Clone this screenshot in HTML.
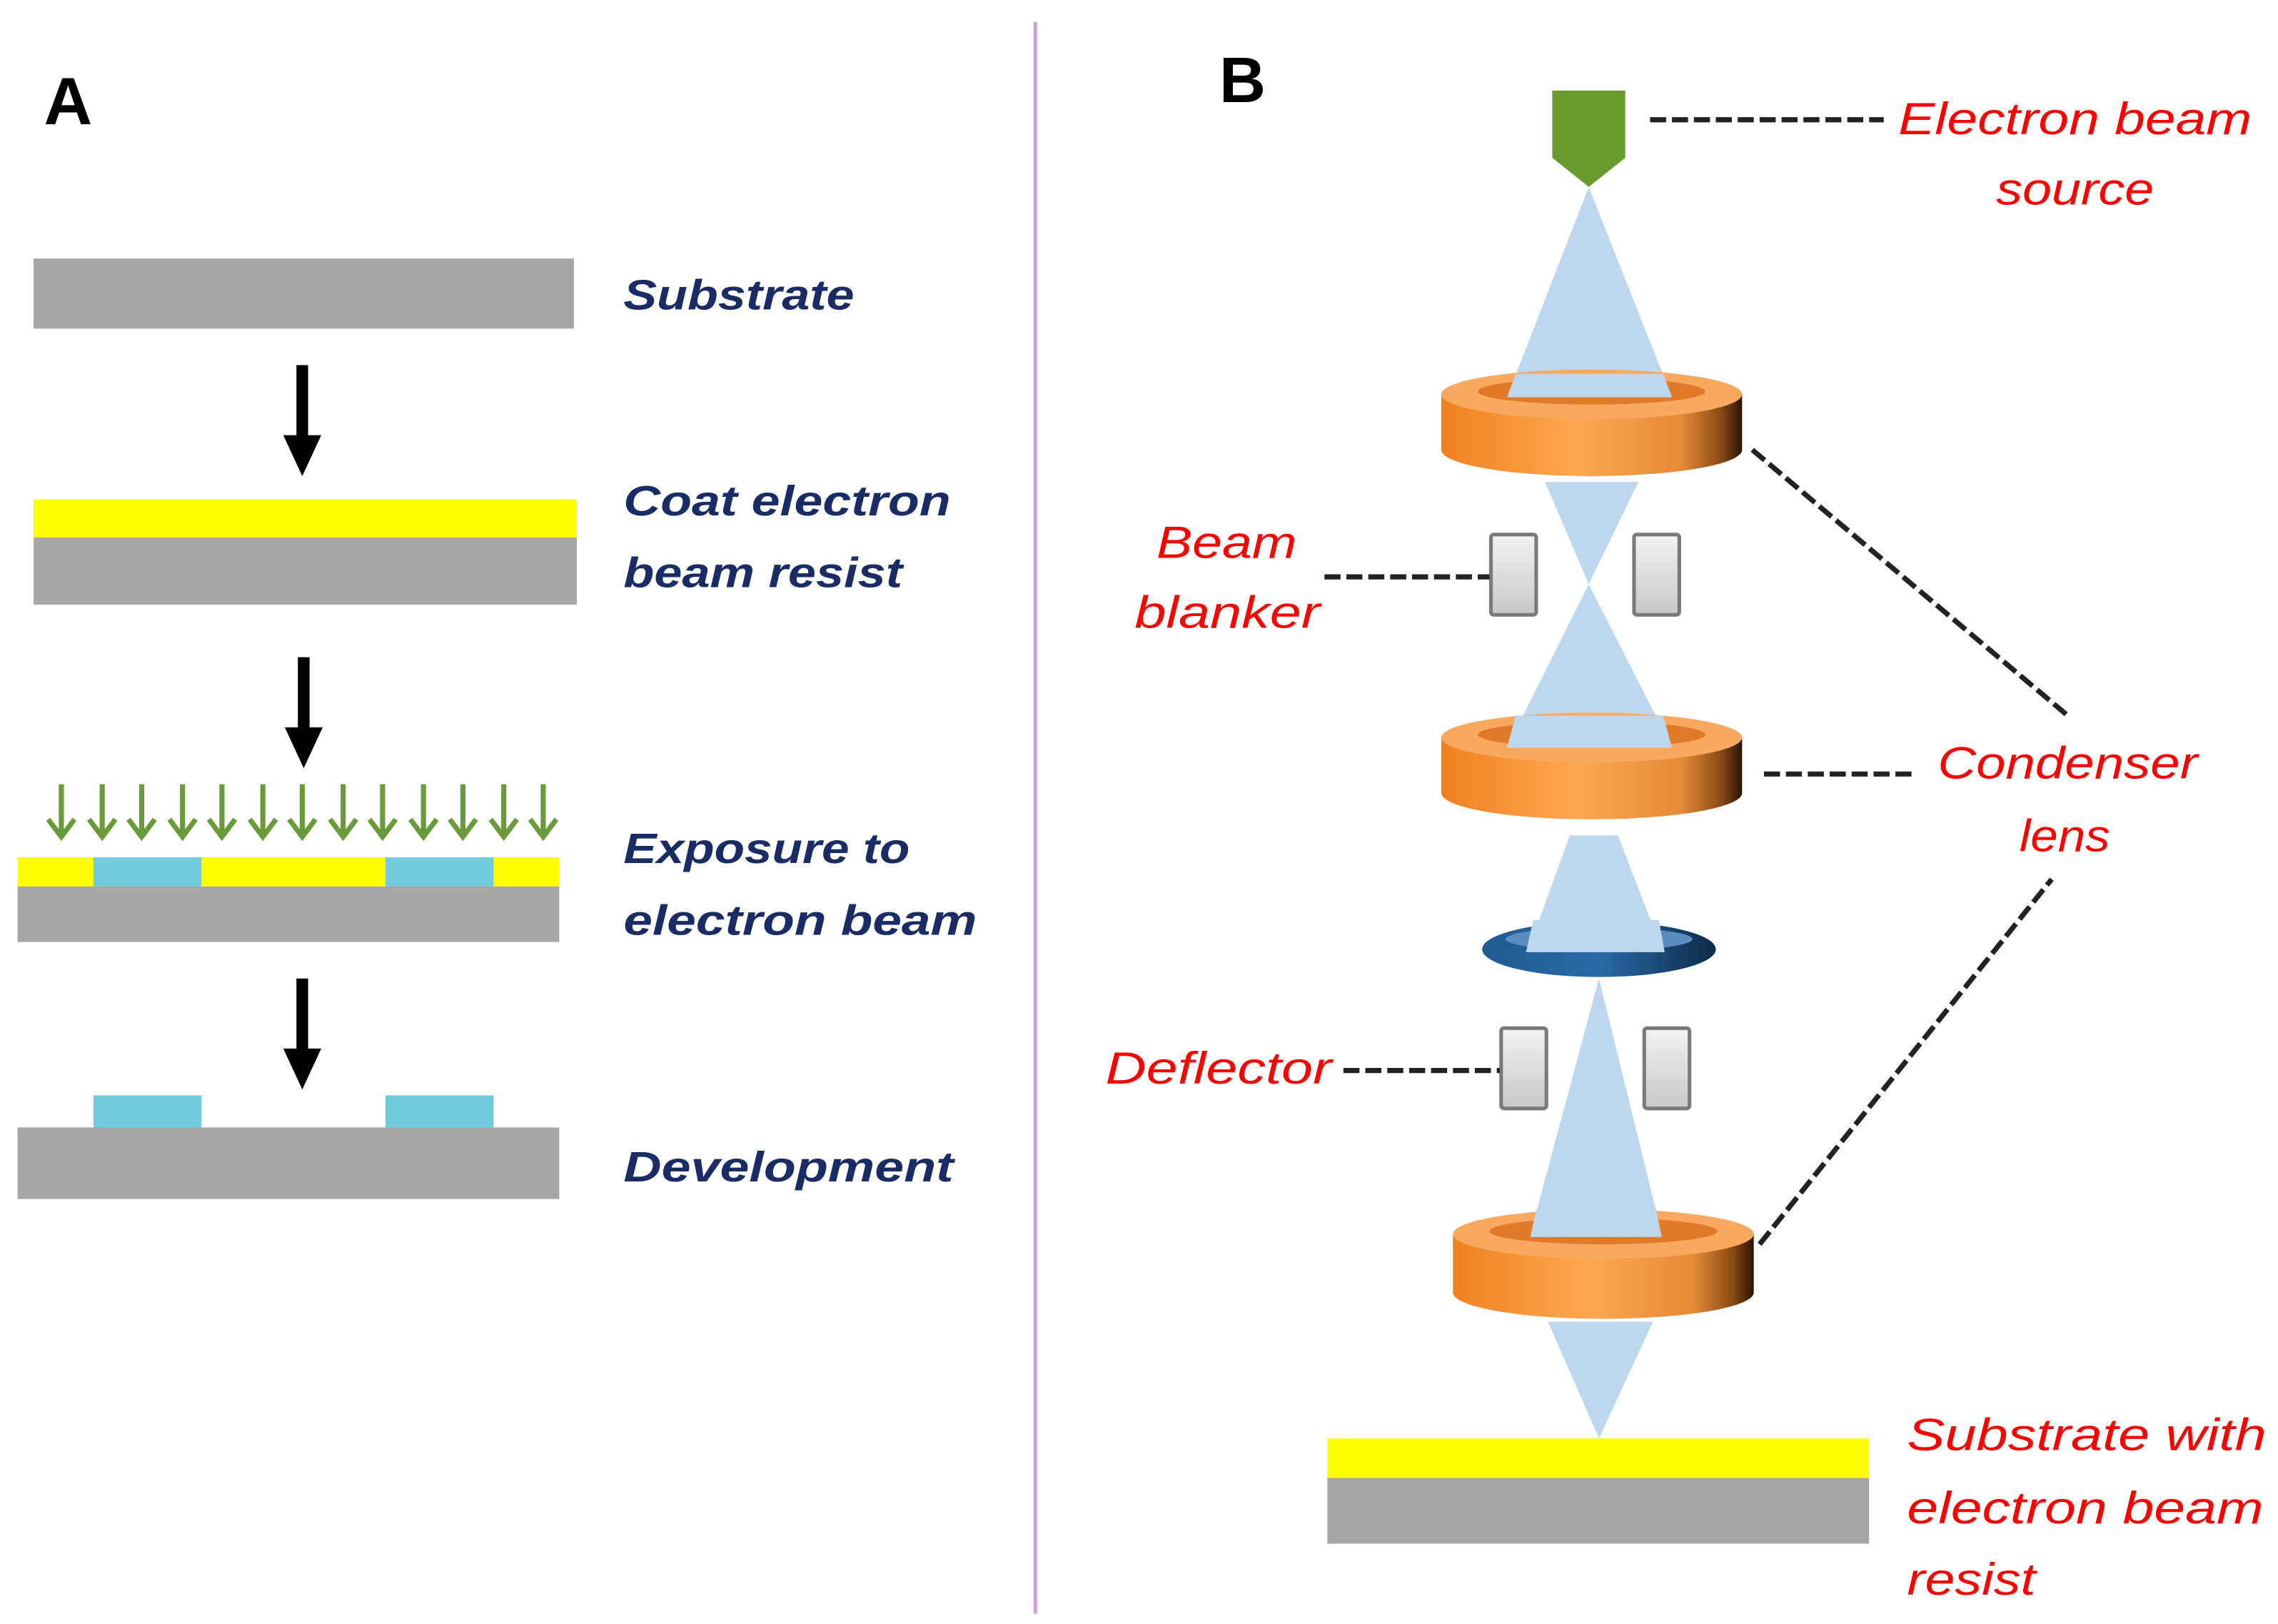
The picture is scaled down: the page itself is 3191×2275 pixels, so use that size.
<!DOCTYPE html>
<html><head><meta charset="utf-8"><style>
html,body{margin:0;padding:0;background:#fff;}
svg{display:block;}
.n{font-family:"Liberation Sans",sans-serif;font-style:italic;font-weight:bold;fill:#1a2c66;font-size:29px;}
.r{font-family:"Liberation Sans",sans-serif;font-style:italic;font-weight:normal;fill:#ff0000;font-size:31px;}
</style></head><body>
<svg width="3191" height="2275" viewBox="0 0 1560 1112" preserveAspectRatio="none" xmlns="http://www.w3.org/2000/svg">
<defs>
<linearGradient id="og" x1="0" x2="1" y1="0" y2="0">
<stop offset="0" stop-color="#f08020"/><stop offset="0.45" stop-color="#fda850"/><stop offset="0.8" stop-color="#e58a38"/><stop offset="0.93" stop-color="#8a4a14"/><stop offset="1" stop-color="#2a1405"/>
</linearGradient>
<linearGradient id="pg" x1="0" x2="0" y1="0" y2="1">
<stop offset="0" stop-color="#f2f2f2"/><stop offset="1" stop-color="#c8c8c8"/>
</linearGradient>
<linearGradient id="bg" x1="0" x2="1" y1="0" y2="0">
<stop offset="0" stop-color="#1f5a90"/><stop offset="0.5" stop-color="#2a6aa8"/><stop offset="1" stop-color="#0d2a48"/>
</linearGradient>
</defs>
<rect width="1560" height="1112" fill="#fff"/>
<line x1="709" y1="15" x2="709" y2="1105" stroke="#c9a0dc" stroke-width="2.5"/>
<text x="30" y="85" font-family="Liberation Sans,sans-serif" font-weight="bold" font-size="46">A</text>
<rect x="23" y="177" width="370" height="48" fill="#a6a6a6"/>
<g fill="#000">
<rect x="203" y="250" width="8" height="50"/><polygon points="194,298 220,298 207,326"/>
<rect x="204" y="450" width="8" height="50"/><polygon points="195,498 221,498 208,526"/>
<rect x="203" y="670" width="8" height="50"/><polygon points="194,718 220,718 207,746"/>
</g>
<rect x="23" y="342" width="372" height="26" fill="#ffff00"/>
<rect x="23" y="368" width="372" height="46" fill="#a6a6a6"/>
<g stroke="#6a9a3a" stroke-width="3.5" fill="none">
<path d="M42,537 v34 M33,561 l9,12 l9,-12"/>
<path d="M70,537 v34 M61,561 l9,12 l9,-12"/>
<path d="M97,537 v34 M88,561 l9,12 l9,-12"/>
<path d="M125,537 v34 M116,561 l9,12 l9,-12"/>
<path d="M152,537 v34 M143,561 l9,12 l9,-12"/>
<path d="M180,537 v34 M171,561 l9,12 l9,-12"/>
<path d="M207,537 v34 M198,561 l9,12 l9,-12"/>
<path d="M235,537 v34 M226,561 l9,12 l9,-12"/>
<path d="M262,537 v34 M253,561 l9,12 l9,-12"/>
<path d="M290,537 v34 M281,561 l9,12 l9,-12"/>
<path d="M317,537 v34 M308,561 l9,12 l9,-12"/>
<path d="M345,537 v34 M336,561 l9,12 l9,-12"/>
<path d="M372,537 v34 M363,561 l9,12 l9,-12"/>
</g>
<rect x="12" y="587" width="371" height="20" fill="#ffff00"/>
<rect x="64" y="587" width="74" height="20" fill="#72cbdc"/>
<rect x="264" y="587" width="74" height="20" fill="#72cbdc"/>
<rect x="12" y="607" width="371" height="38" fill="#a6a6a6"/>
<rect x="64" y="750" width="74" height="23" fill="#72cbdc"/>
<rect x="264" y="750" width="74" height="23" fill="#72cbdc"/>
<rect x="12" y="772" width="371" height="49" fill="#a6a6a6"/>
<text class="n" x="427" y="212" textLength="158" lengthAdjust="spacingAndGlyphs">Substrate</text>
<text class="n" x="427" y="353" textLength="224" lengthAdjust="spacingAndGlyphs">Coat electron</text>
<text class="n" x="427" y="402" textLength="191" lengthAdjust="spacingAndGlyphs">beam resist</text>
<text class="n" x="427" y="591" textLength="196" lengthAdjust="spacingAndGlyphs">Exposure to</text>
<text class="n" x="427" y="640" textLength="242" lengthAdjust="spacingAndGlyphs">electron beam</text>
<text class="n" x="427" y="809" textLength="226" lengthAdjust="spacingAndGlyphs">Development</text>
<text x="835" y="70" font-family="Liberation Sans,sans-serif" font-weight="bold" font-size="44">B</text>
<g fill="#bdd7ee">
<polygon points="1088,128 1032,272 1145,272"/>
<polygon points="1058,330 1122,330 1088,400"/>
<polygon points="1088,400 1032,512 1145,512"/>
<polygon points="1075,572 1108,572 1140,655 1045,655"/>
<polygon points="1095,670 1048,845 1138,845"/>
<polygon points="1060,905 1132,905 1095,985"/>
</g>
<polygon points="1063,62 1113,62 1113,108 1088,128 1063,108" fill="#6a9a2e"/>
<g>
<path d="M987,270 v38 a103,18 0 0 0 206,0 v-38 z" fill="url(#og)"/>
<ellipse cx="1090" cy="270" rx="103" ry="17" fill="#f9a860"/>
<ellipse cx="1090" cy="268" rx="78" ry="9" fill="#e07a28"/>
<polygon points="1038,256 1139,256 1145,272 1032,272" fill="#bdd7ee"/>
</g>
<g>
<path d="M987,505 v38 a103,18 0 0 0 206,0 v-38 z" fill="url(#og)"/>
<ellipse cx="1090" cy="505" rx="103" ry="17" fill="#f9a860"/>
<ellipse cx="1090" cy="503" rx="78" ry="9" fill="#e07a28"/>
<polygon points="1038,490 1139,490 1145,512 1032,512" fill="#bdd7ee"/>
</g>
<g>
<path d="M995,845 v40 a103,18 0 0 0 206,0 v-40 z" fill="url(#og)"/>
<ellipse cx="1098" cy="845" rx="103" ry="17" fill="#f9a860"/>
<ellipse cx="1098" cy="843" rx="78" ry="9" fill="#e07a28"/>
<polygon points="1052,828 1134,828 1138,847 1048,847" fill="#bdd7ee"/>
</g>
<ellipse cx="1095" cy="650" rx="80" ry="19" fill="url(#bg)"/>
<ellipse cx="1095" cy="643" rx="64" ry="8" fill="#5a8cc0"/>
<polygon points="1050,630 1136,630 1140,652 1045,652" fill="#bdd7ee"/>
<g stroke="#7a7a7a" stroke-width="2.5" fill="url(#pg)">
<rect x="1021" y="366" width="31" height="55" rx="2"/>
<rect x="1119" y="366" width="31" height="55" rx="2"/>
<rect x="1028" y="704" width="31" height="55" rx="2"/>
<rect x="1126" y="704" width="31" height="55" rx="2"/>
</g>
<g stroke="#222" stroke-width="3.5" stroke-dasharray="11,4" fill="none">
<line x1="1130" y1="82" x2="1290" y2="82"/>
<line x1="907" y1="395" x2="1020" y2="395"/>
<line x1="1208" y1="530" x2="1310" y2="530"/>
<line x1="920" y1="733" x2="1027" y2="733"/>
<line x1="1200" y1="308" x2="1416" y2="490"/>
<line x1="1205" y1="852" x2="1405" y2="602"/>
</g>
<rect x="909" y="985" width="371" height="27" fill="#ffff00"/>
<rect x="909" y="1012" width="371" height="45" fill="#a6a6a6"/>
<text class="r" x="1300" y="92" textLength="242" lengthAdjust="spacingAndGlyphs">Electron beam</text>
<text class="r" x="1367" y="140" textLength="108" lengthAdjust="spacingAndGlyphs">source</text>
<text class="r" x="792" y="382" textLength="96" lengthAdjust="spacingAndGlyphs">Beam</text>
<text class="r" x="777" y="430" textLength="127" lengthAdjust="spacingAndGlyphs">blanker</text>
<text class="r" x="1327" y="533" textLength="178" lengthAdjust="spacingAndGlyphs">Condenser</text>
<text class="r" x="1383" y="583" textLength="62" lengthAdjust="spacingAndGlyphs">lens</text>
<text class="r" x="757" y="742" textLength="155" lengthAdjust="spacingAndGlyphs">Deflector</text>
<text class="r" x="1306" y="993" textLength="246" lengthAdjust="spacingAndGlyphs">Substrate with</text>
<text class="r" x="1306" y="1043" textLength="244" lengthAdjust="spacingAndGlyphs">electron beam</text>
<text class="r" x="1306" y="1092" textLength="88" lengthAdjust="spacingAndGlyphs">resist</text>
</svg>
</body></html>
